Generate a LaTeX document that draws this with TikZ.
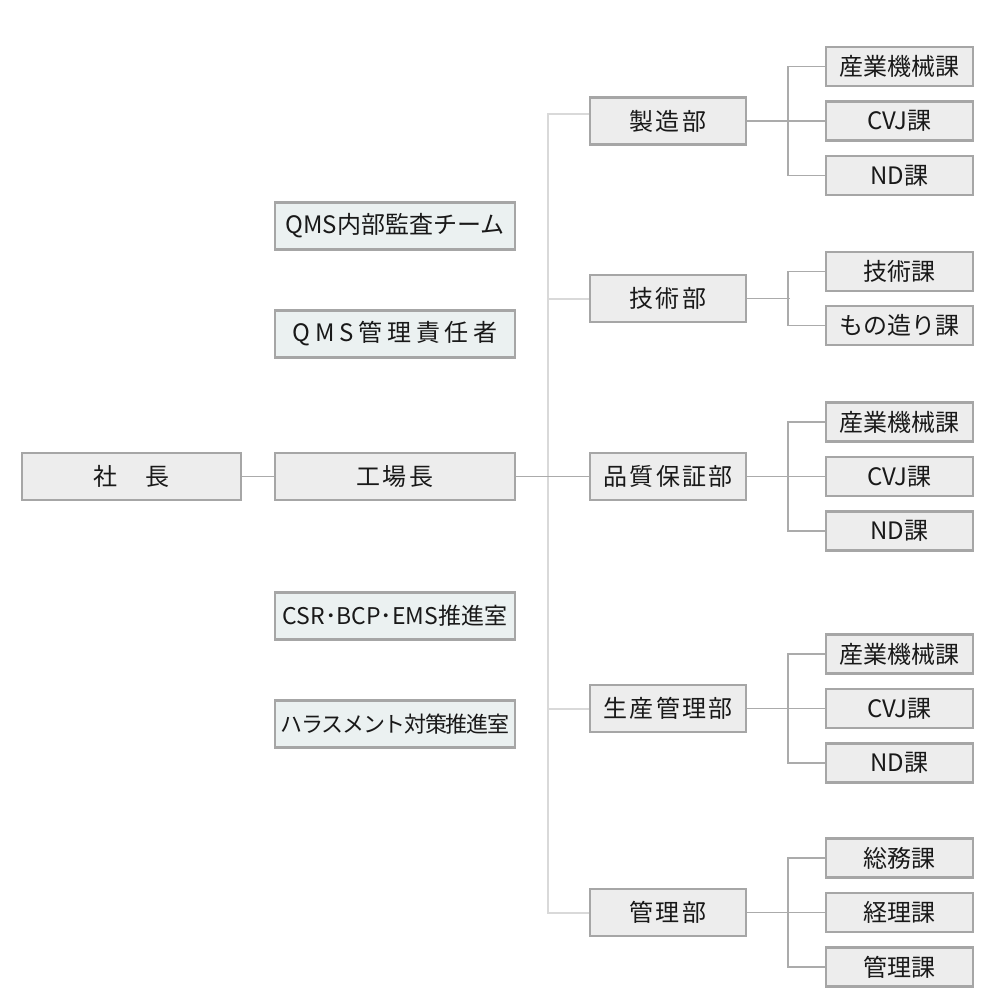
\documentclass[tikz,border=0pt]{standalone}
\usepackage{fontspec}
\setmainfont{Noto Sans CJK JP}
\newfontfamily\jpwide[LetterSpace=20]{Noto Sans CJK JP}
\newfontfamily\jpmid[LetterSpace=10]{Noto Sans CJK JP}
\newfontfamily\jpnarrow[LetterSpace=-6]{Noto Sans CJK JP}
\usetikzlibrary{positioning}
\definecolor{boxline}{HTML}{A6A6A6}
\definecolor{boxfill}{HTML}{EDEDED}
\definecolor{stafffill}{HTML}{EBF1F1}
\definecolor{trunkline}{HTML}{D9D9D9}
\definecolor{linkline}{HTML}{ABABAB}

\begin{document}
\begin{tikzpicture}[node distance=20pt,on grid,
	unit/.style={draw=boxline,fill=boxfill,line width=1.1pt,inner sep=0pt,text=black!90,font=\fontsize{12}{14}\selectfont},
	head/.style={unit,minimum width=109.5pt,minimum height=23.5pt},
	chief/.style={unit,minimum width=120pt,minimum height=23.5pt},
	staff/.style={chief,fill=stafffill},
	dept/.style={unit,minimum width=78pt,minimum height=23.5pt},
	sect/.style={unit,minimum width=73.5pt,minimum height=19.5pt},
	link/.style={draw=linkline,line width=0.6pt},
	trunk/.style={draw=trunkline,line width=1pt}]
			\useasboundingbox (0,0) rectangle (500pt,-503.5pt);
			% top level
			\node[head] (shacho) at (65.75pt,-238.25pt)		{\jpmid 社　長};
			\node[chief] (kojo) [right=131.75pt of shacho]	{\jpmid 工場長};
			\node[staff] (audit) [above=125.25pt of kojo]	{QMS内部監査チーム};
			\node[staff] (qmr) [above=71.25pt of kojo]		{\jpwide QMS管理責任者};
			\node[staff] (csr) [below=69.75pt of kojo]		{\fontsize{11.5}{14}\selectfont CSR･BCP･EMS推進室};
			\node[staff] (harass) [below=123.75pt of kojo]	{\jpnarrow\fontsize{11}{14}\selectfont ハラスメント対策推進室};
			% departments
			\node[dept] (hinshitsu) [right=136.5pt of kojo]		{\jpmid 品質保証部};
			\node[dept] (seizo) [above=177.75pt of hinshitsu]	{\jpmid 製造部};
			\node[dept] (gijutsu) [above=89pt of hinshitsu]		{\jpmid 技術部};
			\node[dept] (seisan) [below=116pt of hinshitsu]		{\jpmid 生産管理部};
			\node[dept] (kanri) [below=218pt of hinshitsu]		{\jpmid 管理部};
			% sections
			\node[sect] (seizo2) [right=115.75pt of seizo]		{CVJ課};
			\node[sect] (seizo1) [above=27.25pt of seizo2]		{産業機械課};
			\node[sect] (seizo3) [below=27.25pt of seizo2]		{ND課};
			\node[sect] (gijutsu1) [above right=13.5pt and 115.75pt of gijutsu]	{技術課};
			\node[sect] (gijutsu2) [below right=13.5pt and 115.75pt of gijutsu]	{もの造り課};
			\node[sect] (hinshitsu2) [right=115.75pt of hinshitsu]	{CVJ課};
			\node[sect] (hinshitsu1) [above=27.25pt of hinshitsu2]	{産業機械課};
			\node[sect] (hinshitsu3) [below=27.25pt of hinshitsu2]	{ND課};
			\node[sect] (seisan2) [right=115.75pt of seisan]		{CVJ課};
			\node[sect] (seisan1) [above=27.25pt of seisan2]		{産業機械課};
			\node[sect] (seisan3) [below=27.25pt of seisan2]		{ND課};
			\node[sect] (kanri2) [right=115.75pt of kanri]		{経理課};
			\node[sect] (kanri1) [above=27.25pt of kanri2]		{総務課};
			\node[sect] (kanri3) [below=27.25pt of kanri2]		{管理課};
			% spine
			\coordinate[left=20.5pt of seizo.west] (spine);
			\draw[trunk] ([yshift=3.5pt]seizo.west) -- ([yshift=3.5pt]spine) |- (kanri.west);
			\path[trunk] (spine |- gijutsu.west) edge (gijutsu.west)
						(spine |- seisan.west) edge (seisan.west);
			\path[link] (shacho) edge (kojo)
						(kojo) edge (hinshitsu)
						(seizo) edge (seizo2)
						(hinshitsu) edge (hinshitsu2)
						(seisan) edge (seisan2)
						(kanri) edge (kanri2)
						(gijutsu.east) edge ++(21.5pt,0);
			% brackets
			\draw[link] (seizo1.west) -- ++(-18.5pt,0) |- (seizo3.west);
			\draw[link] (gijutsu1.west) -- ++(-18.5pt,0) |- (gijutsu2.west);
			\draw[link] (hinshitsu1.west) -- ++(-18.5pt,0) |- (hinshitsu3.west);
			\draw[link] (seisan1.west) -- ++(-18.5pt,0) |- (seisan3.west);
			\draw[link] (kanri1.west) -- ++(-18.5pt,0) |- (kanri3.west);
	\end{tikzpicture}
\end{document}
